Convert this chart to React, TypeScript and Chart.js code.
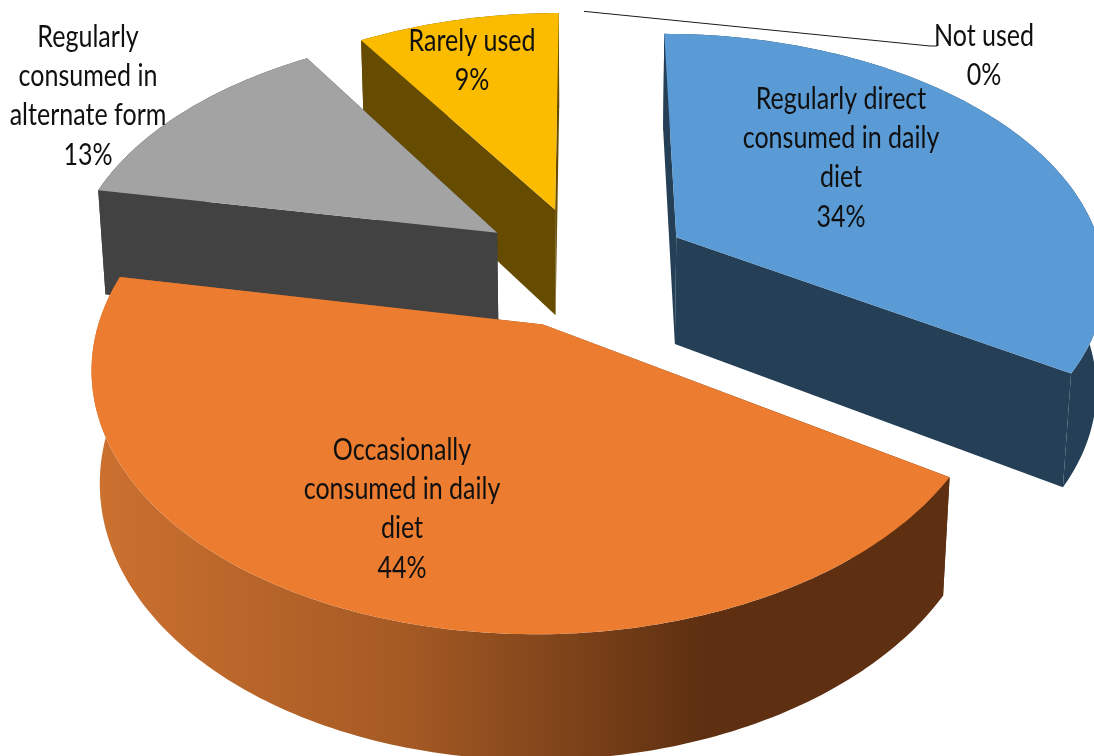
import React, { useEffect, useRef } from "react";
import { Chart, registerables } from "chart.js";

Chart.register(...registerables);

// Share of respondents per consumption pattern, in percent.
const categories = [
  "Regularly direct consumed in daily diet",
  "Occasionally consumed in daily diet",
  "Regularly consumed in alternate form",
  "Rarely used",
  "Not used",
];
const shares = [34, 44, 13, 9, 0];
const labelLines = [
  ["Regularly direct", "consumed in daily", "diet"],
  ["Occasionally", "consumed in daily", "diet"],
  ["Regularly", "consumed in", "alternate form"],
  ["Rarely used"],
  ["Not used"],
];
const topColors = ["#5B9BD5", "#EB7C30", "#A3A3A3", "#FBBC00", "#4472C4"];
const wallColors = ["#243F56", "#8A4A1C", "#424242", "#664C00", "#2A4478"];

// Horizontal shading of the large slice's rim, as [x fraction, colour].
const rimShade: [number, string][] = [
  [0.085, "#CC7130"],
  [0.37, "#A55A24"],
  [0.64, "#5E3011"],
  [1, "#5E3011"],
];

const WIDTH = 1094;
const HEIGHT = 756;
const FONT = '30px Lato, "Noto Sans", sans-serif';
const TEXT_SQUEEZE = 0.835;
const LINE_STEP = 39.3;

// Camera used to lay the pie's flat geometry on a tilted plane.
const camera = { x0: 584, y0: 266, a: 429, b: 242.6, h: 110, k: 0.1526, m: 0.016 };
const explosion = 0.25;

// Centre of the first text line for each slice label.
const labelAnchors = [
  [841, 99],
  [402, 450],
  [88, 37],
  [472, 41],
  [984, 36],
];
const leaderElbow = [
  [930, 46],
  [937, 46],
];

type Pt = [number, number];

function project(u: number, v: number, z: number): Pt {
  const { x0, y0, a, b, h, k, m } = camera;
  const w = 1 - k * v + m * z;
  return [x0 + (a * u) / w, y0 + (b * v + h * z) / w];
}

function fillPoly(ctx: CanvasRenderingContext2D, pts: Pt[], style: string | CanvasGradient) {
  ctx.beginPath();
  pts.forEach((p, i) => (i ? ctx.lineTo(p[0], p[1]) : ctx.moveTo(p[0], p[1])));
  ctx.closePath();
  ctx.fillStyle = style;
  ctx.fill();
}

// Extruded, exploded slices built from the arcs the doughnut controller lays out.
const pie3d = {
  id: "pie3d",
  beforeDatasetDraw(chart: any) {
    const { ctx } = chart;
    const arcs = chart.getDatasetMeta(0).data as any[];
    const rim = ctx.createLinearGradient(0, 0, WIDTH, 0);
    rimShade.forEach(([s, c]) => rim.addColorStop(s, c));

    const slices = arcs
      .map((arc, i) => {
        const { startAngle, endAngle } = arc.getProps(["startAngle", "endAngle"]);
        const mid = (startAngle + endAngle) / 2;
        return {
          i,
          startAngle,
          endAngle,
          ox: explosion * Math.cos(mid),
          oy: explosion * Math.sin(mid),
        };
      })
      .filter((s) => s.endAngle - s.startAngle > 0)
      .sort((p, q) => p.oy - q.oy);

    ctx.save();
    for (const s of slices) {
      const wall = s.i === 1 ? rim : wallColors[s.i];
      const steps = Math.max(12, Math.round(((s.endAngle - s.startAngle) * 180) / Math.PI));
      const ring: [number, number][] = [];
      for (let n = 0; n <= steps; n++) {
        const t = s.startAngle + ((s.endAngle - s.startAngle) * n) / steps;
        ring.push([s.ox + Math.cos(t), s.oy + Math.sin(t)]);
      }
      const apex: [number, number] = [s.ox, s.oy];
      const flat = (path: [number, number][], z: number) => path.map((p) => project(p[0], p[1], z));
      const meanDepth = (path: [number, number][]) => path.reduce((t, p) => t + p[1], 0) / path.length;
      const faces = [[apex, ring[0]], [apex, ring[ring.length - 1]], ring].map((path) => ({
        depth: meanDepth(path),
        pts: [...flat(path, 0), ...flat([...path].reverse(), 1)],
      }));
      faces.sort((p, q) => p.depth - q.depth).forEach((f) => fillPoly(ctx, f.pts, wall));
      fillPoly(ctx, [project(apex[0], apex[1], 0), ...flat(ring, 0)], topColors[s.i]);
    }
    ctx.restore();
    return false;
  },
  afterDatasetsDraw(chart: any) {
    const { ctx } = chart;
    const arcs = chart.getDatasetMeta(0).data as any[];
    const total = shares.reduce((p, q) => p + q, 0);

    // Leader line from the empty slice's rim to its label.
    const { startAngle } = arcs[4].getProps(["startAngle"]);
    const from = project((1 + explosion) * Math.cos(startAngle), (1 + explosion) * Math.sin(startAngle), 0);
    ctx.save();
    ctx.beginPath();
    ctx.moveTo(from[0], from[1]);
    leaderElbow.forEach((p) => ctx.lineTo(p[0], p[1]));
    ctx.strokeStyle = "#1a1a1a";
    ctx.lineWidth = 1;
    ctx.stroke();

    ctx.font = FONT;
    ctx.textAlign = "center";
    ctx.textBaseline = "middle";
    ctx.fillStyle = "#101010";
    shares.forEach((value, i) => {
      const lines = [...labelLines[i], `${Math.round((value / total) * 100)}%`];
      const [x, y] = labelAnchors[i];
      lines.forEach((line, n) => {
        ctx.save();
        ctx.translate(x, y + n * LINE_STEP);
        ctx.scale(TEXT_SQUEEZE, 1);
        ctx.fillText(line, 0, 0);
        ctx.restore();
      });
    });
    ctx.restore();
  },
};

export default function App() {
  const ref = useRef<HTMLCanvasElement>(null);
  useEffect(() => {
    document.body.style.margin = "0";
    const chart = new Chart(ref.current as HTMLCanvasElement, {
      type: "pie",
      data: {
        labels: categories,
        datasets: [{ data: shares, backgroundColor: topColors, borderWidth: 0 }],
      },
      options: {
        animation: false,
        responsive: false,
        rotation: 0,
        plugins: { legend: { display: false }, tooltip: { enabled: false } },
      },
      plugins: [pie3d],
    } as any);
    return () => chart.destroy();
  }, []);
  return <canvas ref={ref} width={WIDTH} height={HEIGHT} style={{ display: "block" }} />;
}
